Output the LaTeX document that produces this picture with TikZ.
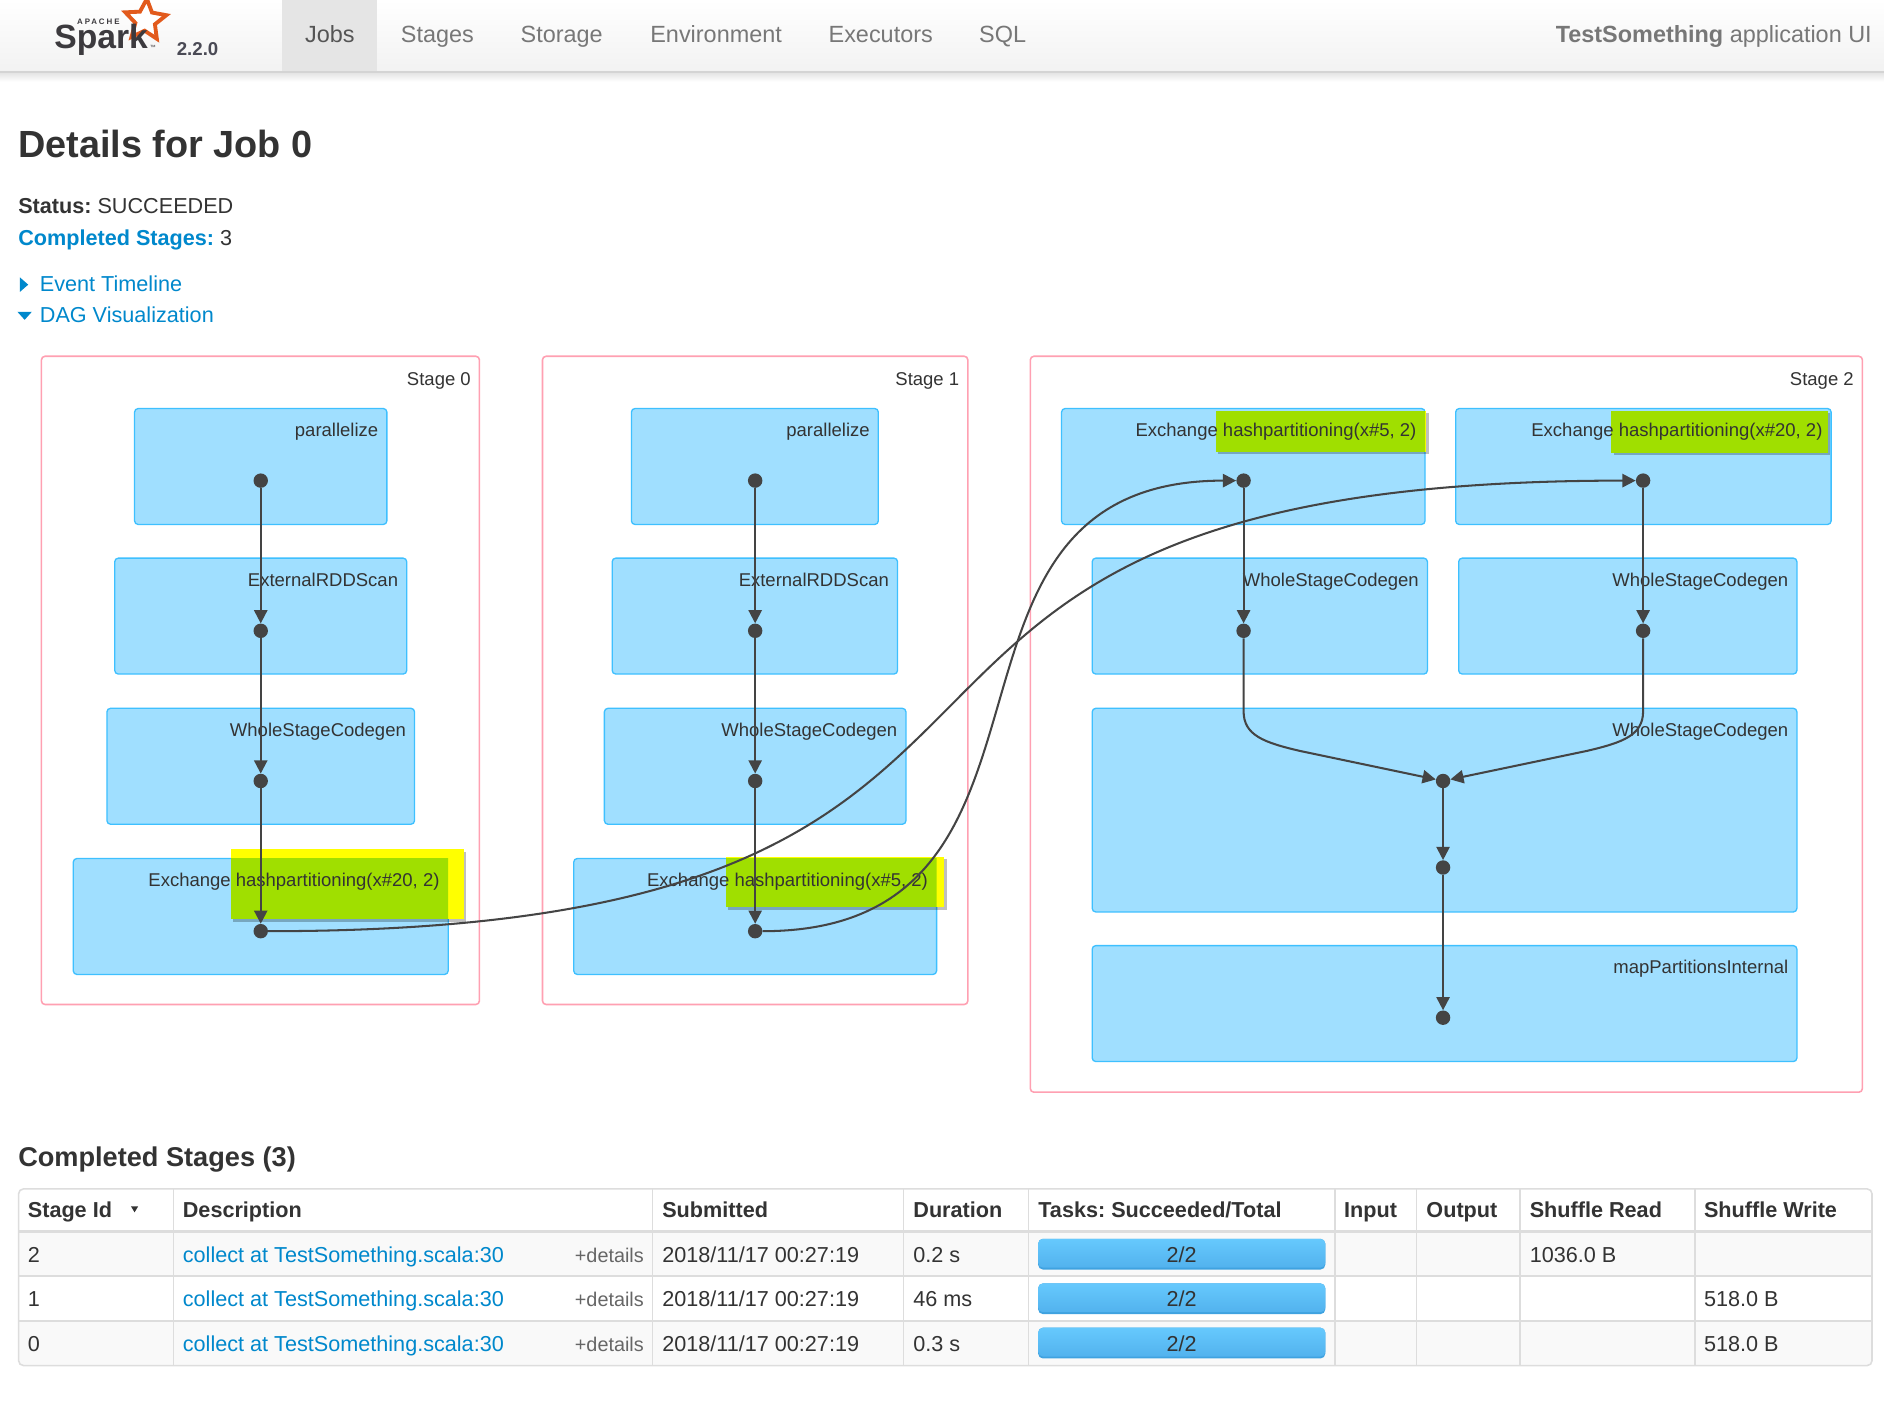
\documentclass[tikz,border=0pt]{standalone}
\usepackage{fontspec}
\setmainfont{Liberation Sans}
\usetikzlibrary{arrows.meta,shapes.geometric,calc}
\frenchspacing
\definecolor{txt}{HTML}{333333}
\definecolor{linkblue}{HTML}{0088CC}
\definecolor{navgray}{HTML}{777777}
\definecolor{navact}{HTML}{555555}
\definecolor{navbot}{HTML}{F2F2F2}
\definecolor{jobtab}{HTML}{E5E5E5}
\definecolor{navline}{HTML}{D4D4D4}
\definecolor{stagepink}{HTML}{FFA0B2}
\definecolor{nodefill}{HTML}{A0DFFF}
\definecolor{nodeline}{HTML}{3EC0FF}
\definecolor{edgec}{HTML}{444444}
\definecolor{hly}{HTML}{FFFF00}
\definecolor{hlg}{HTML}{A0DF00}
\definecolor{tline}{HTML}{DDDDDD}
\definecolor{rowbg}{HTML}{F9F9F9}
\definecolor{bartop}{HTML}{66C9FD}
\definecolor{barbot}{HTML}{52B2EE}
\definecolor{barline}{HTML}{3FA2E0}
\definecolor{sparkorange}{HTML}{E25A1C}
\definecolor{logogray}{HTML}{3C3A3E}
\definecolor{vergray}{HTML}{4A4A55}
\definecolor{detgray}{HTML}{666666}
\newcommand\fs[1]{\fontsize{#1}{#1}\selectfont}
\newcommand\hilite[5]{%
  \fill[black,opacity=.25] (#1+2,#2+2) rectangle (#3+2,#4+2);
  \fill[hly] (#1,#2) rectangle (#3,#4);
  \begin{scope}
    \clip (#5.north west) rectangle (#5.south east);
    \fill[hlg] (#1,#2) rectangle (#3,#4);
  \end{scope}}
\begin{document}
\begin{tikzpicture}[x=1pt,y=-1pt,
  navtxt/.style={inner sep=0, font=\fs{19.5}, text=navgray},
  bodytxt/.style={inner sep=0, font=\fs{18}, text=txt, anchor=base west},
  stagebox/.style={draw=stagepink, line width=1.3pt, fill=white, rounded corners=3pt, inner sep=0, outer sep=0, anchor=north west},
  opbox/.style={draw=nodeline, line width=1.1pt, fill=nodefill, rounded corners=3pt, inner sep=0, outer sep=0, anchor=north west},
  oplbl/.style={inner sep=0, font=\fs{15.4}, text=txt, anchor=base east},
  dotnode/.style={circle, fill=edgec, inner sep=0, minimum size=12pt},
  conn/.style={draw=edgec, line width=1.7pt, -{Triangle[length=11pt,width=11pt]}},
  hdr/.style={inner sep=0, font=\fs{18}\bfseries, text=txt, anchor=base west},
  cell/.style={inner sep=0, font=\fs{18}, text=txt, anchor=base west},
  linkcell/.style={inner sep=0, font=\fs{18}, text=linkblue, anchor=base west}
]
\clip (0,0) rectangle (1568,1166);
\fill[white] (0,0) rectangle (1568,1166);

% ---------- navigation bar ----------
\shade[top color=white, bottom color=navbot] (0,0) rectangle (1568,60);
\fill[jobtab] (235,0) rectangle (314,60);
\shade[top color=black!10, bottom color=white] (0,61) rectangle (1568,68);
\draw[navline, line width=2pt] (0,60) -- (1568,60);
\node[star, star points=5, star point ratio=2.1, draw=sparkorange, line width=3.2pt, fill=white, minimum size=36pt, inner sep=0, rotate=-4] (star) at (121,17) {};
\node[inner sep=0, anchor=base west, font=\fs{28}\bfseries, text=logogray, text height=19.5pt] (spark) at (45,40) {Spark};
\node[inner sep=0, anchor=base west, font=\fs{6.6}\bfseries\addfontfeatures{LetterSpace=24}, text=logogray] (apache) at (64,20) {APACHE};
\node[inner sep=0, anchor=base west, font=\fs{5}, text=logogray] (tm) at (124.5,41) {™};
\node[inner sep=0, anchor=base west, font=\fs{15.5}\bfseries, text=vergray] (ver) at (147,45.8) {2.2.0};
\node[navtxt, anchor=base, text=navact] (nJobs) at (274.5,35) {Jobs};
\node[navtxt, anchor=base] (nStages) at (364,35) {Stages};
\node[navtxt, anchor=base] (nStorage) at (467.5,35) {Storage};
\node[navtxt, anchor=base] (nEnv) at (596,35) {Environment};
\node[navtxt, anchor=base] (nExec) at (733,35) {Executors};
\node[navtxt, anchor=base] (nSQL) at (834.5,35) {SQL};
\node[navtxt, anchor=base east] (appui) at (1558,35) {\textbf{TestSomething} application UI};

% ---------- job summary ----------
\node[inner sep=0, anchor=base west, font=\fs{31.5}\bfseries, text=txt] (title) at (15,131) {Details for Job 0};
\node[bodytxt] (status) at (15,177.6) {\textbf{Status:} SUCCEEDED};
\node[bodytxt] (compl) at (15,204) {\textcolor{linkblue}{\textbf{Completed Stages:}} 3};
\fill[linkblue] (16.5,230.8) -- (16.5,243) -- (23.5,236.9) -- cycle;
\node[bodytxt, text=linkblue] (evt) at (33,242.8) {Event Timeline};
\fill[linkblue] (14.5,259.5) -- (26.5,259.5) -- (20.5,266.2) -- cycle;
\node[bodytxt, text=linkblue] (dag) at (33,268.6) {DAG Visualization};

% ---------- stages ----------
\node[stagebox, minimum width=364.5pt, minimum height=539.5pt] (st0) at (34.5,296.5) {};
\node[stagebox, minimum width=354pt, minimum height=539.5pt] (st1) at (451.5,296.5) {};
\node[stagebox, minimum width=692.5pt, minimum height=612.5pt] (st2) at (857.5,296.5) {};
\node[oplbl] (st0l) at ($(st0.north east)+(-7,24)$) {Stage 0};
\node[oplbl] (st1l) at ($(st1.north east)+(-7,24)$) {Stage 1};
\node[oplbl] (st2l) at ($(st2.north east)+(-7,24)$) {Stage 2};

% operator boxes
\node[opbox, minimum width=210pt, minimum height=96.5pt] (s0a) at (112,340) {};
\node[opbox, minimum width=243pt, minimum height=96.5pt] (s0b) at (95.5,464.5) {};
\node[opbox, minimum width=256pt, minimum height=96.5pt] (s0c) at (89,589.5) {};
\node[opbox, minimum width=312pt, minimum height=96.5pt] (s0d) at (61,714.5) {};
\node[opbox, minimum width=205.5pt, minimum height=96.5pt] (s1a) at (525.5,340) {};
\node[opbox, minimum width=237.5pt, minimum height=96.5pt] (s1b) at (509.5,464.5) {};
\node[opbox, minimum width=251pt, minimum height=96.5pt] (s1c) at (503,589.5) {};
\node[opbox, minimum width=302pt, minimum height=96.5pt] (s1d) at (477.5,714.5) {};
\node[opbox, minimum width=302.5pt, minimum height=96.5pt] (s2a) at (883.5,340) {};
\node[opbox, minimum width=312.5pt, minimum height=96.5pt] (s2b) at (1211.5,340) {};
\node[opbox, minimum width=279pt, minimum height=96.5pt] (s2c) at (909,464.5) {};
\node[opbox, minimum width=281.5pt, minimum height=96.5pt] (s2d) at (1214,464.5) {};
\node[opbox, minimum width=586.5pt, minimum height=169.5pt] (s2e) at (909,589.5) {};
\node[opbox, minimum width=586.5pt, minimum height=96.5pt] (s2f) at (909,787) {};

% highlights
\hilite{192}{707}{386}{765}{s0d}
\hilite{604}{713}{786}{755}{s1d}
\hilite{1012}{342}{1187}{376}{s2a}
\hilite{1341}{342}{1521}{377}{s2b}

% labels
\node[oplbl] (s0al) at ($(s0a.north east)+(-7,23.5)$) {parallelize};
\node[oplbl] (s0bl) at ($(s0b.north east)+(-7,23.5)$) {ExternalRDDScan};
\node[oplbl] (s0cl) at ($(s0c.north east)+(-7,23.5)$) {WholeStageCodegen};
\node[oplbl] (s0dl) at ($(s0d.north east)+(-7,23.5)$) {Exchange hashpartitioning(x\#20, 2)};
\node[oplbl] (s1al) at ($(s1a.north east)+(-7,23.5)$) {parallelize};
\node[oplbl] (s1bl) at ($(s1b.north east)+(-7,23.5)$) {ExternalRDDScan};
\node[oplbl] (s1cl) at ($(s1c.north east)+(-7,23.5)$) {WholeStageCodegen};
\node[oplbl] (s1dl) at ($(s1d.north east)+(-7,23.5)$) {Exchange hashpartitioning(x\#5, 2)};
\node[oplbl] (s2al) at ($(s2a.north east)+(-7,23.5)$) {Exchange hashpartitioning(x\#5, 2)};
\node[oplbl] (s2bl) at ($(s2b.north east)+(-7,23.5)$) {Exchange hashpartitioning(x\#20, 2)};
\node[oplbl] (s2cl) at ($(s2c.north east)+(-7,23.5)$) {WholeStageCodegen};
\node[oplbl] (s2dl) at ($(s2d.north east)+(-7,23.5)$) {WholeStageCodegen};
\node[oplbl] (s2el) at ($(s2e.north east)+(-7,23.5)$) {WholeStageCodegen};
\node[oplbl] (s2fl) at ($(s2f.north east)+(-7,23.5)$) {mapPartitionsInternal};

% dots
\node[dotnode] (d0a) at (217,400) {};
\node[dotnode] (d0b) at (217,525) {};
\node[dotnode] (d0c) at (217,650) {};
\node[dotnode] (d0d) at (217,775) {};
\node[dotnode] (d1a) at (628.5,400) {};
\node[dotnode] (d1b) at (628.5,525) {};
\node[dotnode] (d1c) at (628.5,650) {};
\node[dotnode] (d1d) at (628.5,775) {};
\node[dotnode] (d2a) at (1035,400) {};
\node[dotnode] (d2b) at (1367.5,400) {};
\node[dotnode] (d2c) at (1035,525) {};
\node[dotnode] (d2d) at (1367.5,525) {};
\node[dotnode] (d2e) at (1201,650) {};
\node[dotnode] (d2f) at (1201,722) {};
\node[dotnode] (d2g) at (1201,847) {};

% edges
\draw[conn] (d0a) -- (d0b);
\draw[conn] (d0b) -- (d0c);
\draw[conn] (d0c) -- (d0d);
\draw[conn] (d1a) -- (d1b);
\draw[conn] (d1b) -- (d1c);
\draw[conn] (d1c) -- (d1d);
\draw[conn] (d2a) -- (d2c);
\draw[conn] (d2b) -- (d2d);
\draw[conn] (d2e) -- (d2f);
\draw[conn] (d2f) -- (d2g);
\coordinate (bl1) at (1035,592);
\coordinate (bl2) at (1082,625);
\coordinate (br1) at (1367.5,592);
\coordinate (br2) at (1320.5,625);
\draw[conn] (d2c.south) -- (bl1) .. controls (1035,612) and (1052,618) .. (bl2) -- (d2e.168);
\draw[conn] (d2d.south) -- (br1) .. controls (1367.5,612) and (1350.5,618) .. (br2) -- (d2e.12);
\draw[conn] (d0d.east) .. controls +(760,0) and +(-760,0) .. (d2b.west);
\draw[conn] (d1d.east) .. controls +(280,0) and +(-280,0) .. (d2a.west);

% ---------- completed stages table ----------
\node[inner sep=0, anchor=base west, font=\fs{22.6}\bfseries, text=txt] (cstitle) at (15,970.7) {Completed Stages (3)};
\begin{scope}
  \clip[rounded corners=4pt] (15.5,989.5) rectangle (1558,1136.5);
  \fill[rowbg] (15.5,1026) rectangle (1558,1062);
  \fill[rowbg] (15.5,1099.5) rectangle (1558,1136.5);
\end{scope}
\draw[tline, line width=2pt] (15.5,1025) -- (1558,1025);
\draw[tline, line width=1.3pt] (15.5,1062) -- (1558,1062);
\draw[tline, line width=1.3pt] (15.5,1099.5) -- (1558,1099.5);
\foreach \cx in {144.5,543,752,856,1111,1179,1265,1410.5}
  \draw[tline, line width=1.3pt] (\cx,989.5) -- (\cx,1136.5);
\draw[tline, line width=1.3pt, rounded corners=4pt] (15.5,989.5) rectangle (1558,1136.5);

\node[hdr] (hId) at (23,1013) {Stage Id};
\fill[txt] (109,1004) -- (115,1004) -- (112,1009) -- cycle;
\node[hdr] (hDesc) at (152,1013) {Description};
\node[hdr] (hSub) at (551,1013) {Submitted};
\node[hdr] (hDur) at (760,1013) {Duration};
\node[hdr] (hTasks) at (864,1013) {Tasks: Succeeded/Total};
\node[hdr] (hIn) at (1118.5,1013) {Input};
\node[hdr] (hOut) at (1187,1013) {Output};
\node[hdr] (hSR) at (1273,1013) {Shuffle Read};
\node[hdr] (hSW) at (1418,1013) {Shuffle Write};

\foreach \yy/\sid/\dur/\rn in {1050.4/2/0.2 s/a, 1087.5/1/46 ms/b, 1124.4/0/0.3 s/c}{
  \node[cell] (id\rn) at (23,\yy) {\sid};
  \node[linkcell] (desc\rn) at (152,\yy) {collect at TestSomething.scala:30};
  \node[inner sep=0, anchor=base east, font=\fs{16.5}, text=detgray] (det\rn) at (536,\yy) {+details};
  \node[cell] (sub\rn) at (551,\yy) {2018/11/17 00:27:19};
  \node[cell] (dur\rn) at (760,\yy) {\dur};
  \fill[barline, rounded corners=4pt] (864,\yy-19.4) rectangle (1103,\yy+6.2);
  \shade[top color=bartop, bottom color=barbot, rounded corners=4pt] (864,\yy-19.4) rectangle (1103,\yy+4.6);
  \node[inner sep=0, anchor=base, font=\fs{18}, text=txt] (bar\rn) at (983.5,\yy) {2/2};
}
\node[cell] (sra) at (1273,1050.4) {1036.0 B};
\node[cell] (swb) at (1418,1087.5) {518.0 B};
\node[cell] (swc) at (1418,1124.4) {518.0 B};
\end{tikzpicture}
\end{document}
